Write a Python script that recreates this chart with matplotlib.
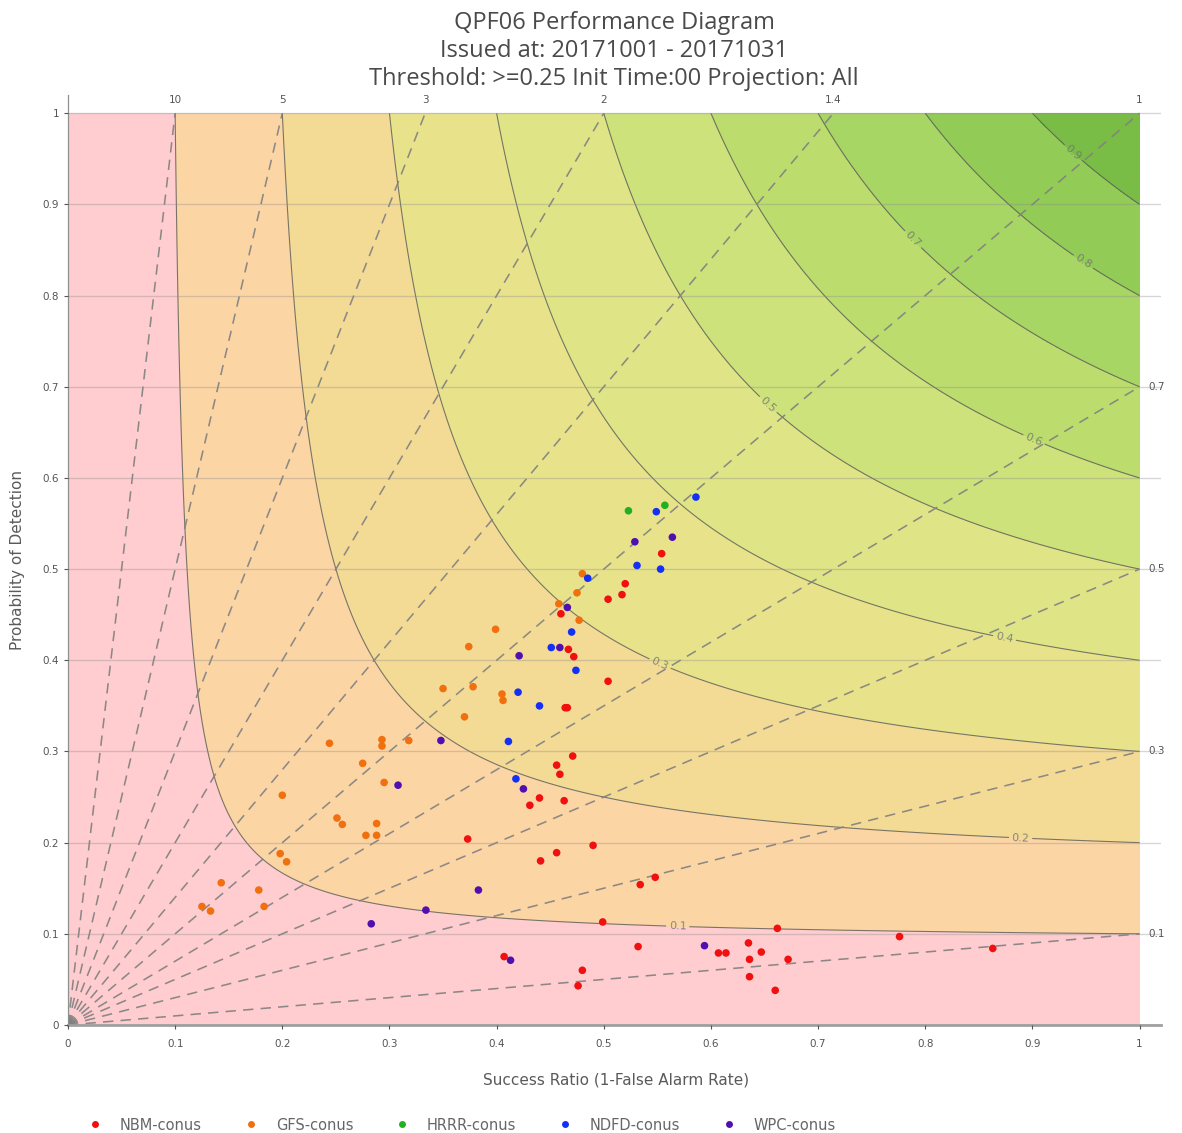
import numpy as np
import matplotlib
matplotlib.use('Agg')
import matplotlib.pyplot as plt
from matplotlib.lines import Line2D

# ---------------- data ----------------
series_names = ['NBM-conus', 'GFS-conus', 'HRRR-conus', 'NDFD-conus', 'WPC-conus']
series_colors = ['#f01010', '#f07010', '#22b022', '#1530f5', '#5010b0']

nbm_sr = [0.554, 0.520, 0.517, 0.504, 0.460, 0.467, 0.472, 0.504, 0.464, 0.466,
          0.471, 0.456, 0.459, 0.440, 0.431, 0.463, 0.373, 0.490, 0.456, 0.441,
          0.534, 0.548, 0.499, 0.532, 0.407, 0.480, 0.476, 0.607, 0.614, 0.635,
          0.636, 0.647, 0.662, 0.672, 0.636, 0.660, 0.776, 0.863]
nbm_pod = [0.517, 0.484, 0.472, 0.467, 0.451, 0.412, 0.404, 0.377, 0.348, 0.348,
           0.295, 0.285, 0.275, 0.249, 0.241, 0.246, 0.204, 0.197, 0.189, 0.180,
           0.154, 0.162, 0.113, 0.086, 0.075, 0.060, 0.043, 0.079, 0.079, 0.090,
           0.072, 0.080, 0.106, 0.072, 0.053, 0.038, 0.097, 0.084]

gfs_sr = [0.480, 0.475, 0.458, 0.477, 0.399, 0.374, 0.350, 0.378, 0.405, 0.406,
          0.370, 0.318, 0.293, 0.293, 0.244, 0.275, 0.295, 0.200, 0.251, 0.256,
          0.288, 0.288, 0.278, 0.198, 0.204, 0.143, 0.178, 0.125, 0.133, 0.183]
gfs_pod = [0.495, 0.474, 0.462, 0.444, 0.434, 0.415, 0.369, 0.371, 0.363, 0.356,
           0.338, 0.312, 0.313, 0.306, 0.309, 0.287, 0.266, 0.252, 0.227, 0.220,
           0.221, 0.208, 0.208, 0.188, 0.179, 0.156, 0.148, 0.130, 0.125, 0.130]

hrrr_sr = [0.523, 0.557]
hrrr_pod = [0.564, 0.570]

ndfd_sr = [0.586, 0.549, 0.531, 0.553, 0.485, 0.470, 0.451, 0.474, 0.420, 0.440,
           0.411, 0.418]
ndfd_pod = [0.579, 0.563, 0.504, 0.500, 0.490, 0.431, 0.414, 0.389, 0.365, 0.350,
            0.311, 0.270]

wpc_sr = [0.529, 0.564, 0.466, 0.459, 0.421, 0.348, 0.308, 0.425, 0.383, 0.334,
          0.283, 0.413, 0.594]
wpc_pod = [0.530, 0.535, 0.458, 0.414, 0.405, 0.312, 0.263, 0.259, 0.148, 0.126,
           0.111, 0.071, 0.087]

csi_levels = [0.0, 0.1, 0.2, 0.3, 0.4, 0.5, 0.6, 0.7, 0.8, 0.9, 1.0]
csi_colors = ['#ffcdcf', '#fcd5a5', '#f4db95', '#e8e38b', '#dfe586', '#cde27a',
              '#bcdd6e', '#a8d664', '#92cc56', '#7abd46']
bias_values = [0.1, 0.3, 0.5, 0.7, 1, 1.4, 2, 3, 5, 10]
bias_labels = ['0.1', '0.3', '0.5', '0.7', '1', '1.4', '2', '3', '5', '10']
tick_values = [0, 0.1, 0.2, 0.3, 0.4, 0.5, 0.6, 0.7, 0.8, 0.9, 1]
tick_labels = ['0', '0.1', '0.2', '0.3', '0.4', '0.5', '0.6', '0.7', '0.8', '0.9', '1']

title_lines = ['QPF06 Performance Diagram',
               'Issued at: 20171001 - 20171031',
               'Threshold: >=0.25 Init Time:00 Projection: All']

# --------------- layout ---------------
W, H = 1182, 1133
fig = plt.figure(figsize=(W / 100, H / 100), dpi=100)
ax = fig.add_axes([68 / W, 1 - 1025 / H, (1161 - 68) / W, (1025 - 95) / H])

g = np.linspace(0.0005, 1.0, 700)
SR, POD = np.meshgrid(g, g)
CSI = 1.0 / (1.0 / SR + 1.0 / POD - 1.0)
ax.contourf(SR, POD, CSI, levels=csi_levels, colors=csi_colors, zorder=0)
cs = ax.contour(SR, POD, CSI, levels=csi_levels[1:-1], colors='#5a5a5a',
                linewidths=0.8, alpha=0.8, zorder=1)
label_pos = [(0.569, 0.107), (0.889, 0.205), (0.552, 0.395), (0.874, 0.425),
             (0.653, 0.680), (0.901, 0.641), (0.788, 0.861), (0.947, 0.836),
             (0.9375, 0.956)]
ax.clabel(cs, fmt='%.1f', manual=label_pos, inline=True, inline_spacing=3,
          fontsize=8, colors='#707070')

for b, lab in zip(bias_values, bias_labels):
    if b >= 1:
        xe, ye = 1.0 / b, 1.0
        ax.text(xe, 1.014, lab, ha='center', va='center', fontsize=7.5, color='#555555')
    else:
        xe, ye = 1.0, b
        ax.text(1.008, ye, lab, ha='left', va='center', fontsize=7.5, color='#555555')
    ax.plot([0, xe], [0, ye], ls=(0, (6.5, 4.5)), color='#808080', lw=1.15,
            alpha=0.9, zorder=2)

srs = [nbm_sr, gfs_sr, hrrr_sr, ndfd_sr, wpc_sr]
pods = [nbm_pod, gfs_pod, hrrr_pod, ndfd_pod, wpc_pod]
for x, y, c in zip(srs, pods, series_colors):
    ax.scatter(x, y, s=30, color=c, edgecolors='none', zorder=5)

ax.set_xlim(0, 1.02)
ax.set_ylim(0, 1.02)
ax.set_xticks(tick_values)
ax.set_xticklabels(tick_labels)
ax.set_yticks(tick_values)
ax.set_yticklabels(tick_labels)
ax.tick_params(axis='both', labelsize=7.5, colors='#555555', length=3, width=0.8,
               direction='out')
ax.tick_params(axis='x', pad=7)
ax.yaxis.grid(True, color='#8a8a8a', alpha=0.35, lw=1.0)
ax.xaxis.grid(False)
ax.set_axisbelow(False)
for s in ['top', 'right']:
    ax.spines[s].set_visible(False)
ax.spines['left'].set_color('#909090')
ax.spines['left'].set_linewidth(0.9)
ax.spines['bottom'].set_color('#a0a0a0')
ax.spines['bottom'].set_linewidth(2)

fig.text(616 / W, 1 - 1080 / H, 'Success Ratio (1-False Alarm Rate)', ha='center',
         va='center', fontsize=11, color='#5a5a5a')
fig.text(18 / W, 1 - 560 / H, 'Probability of Detection', ha='center', va='center',
         rotation=90, fontsize=11, color='#5a5a5a')

for i, t in enumerate(title_lines):
    fig.text(614 / W, 1 - (23 + 28 * i) / H, t, ha='center', va='center',
             fontsize=17, color='#4a4a4a', family='Open Sans')

handles = [Line2D([], [], marker='o', ls='', color=c, markersize=5,
                  markeredgewidth=0) for c in series_colors]
fig.legend(handles, series_names, loc='center left', ncol=5, frameon=False,
           bbox_to_anchor=(88 / W, 1 - 1125 / H), fontsize=10.5,
           handlelength=1.0, handletextpad=1.2, columnspacing=2.85,
           labelcolor='#666666', borderaxespad=0, borderpad=0)

fig.savefig('out.png', dpi=100)
